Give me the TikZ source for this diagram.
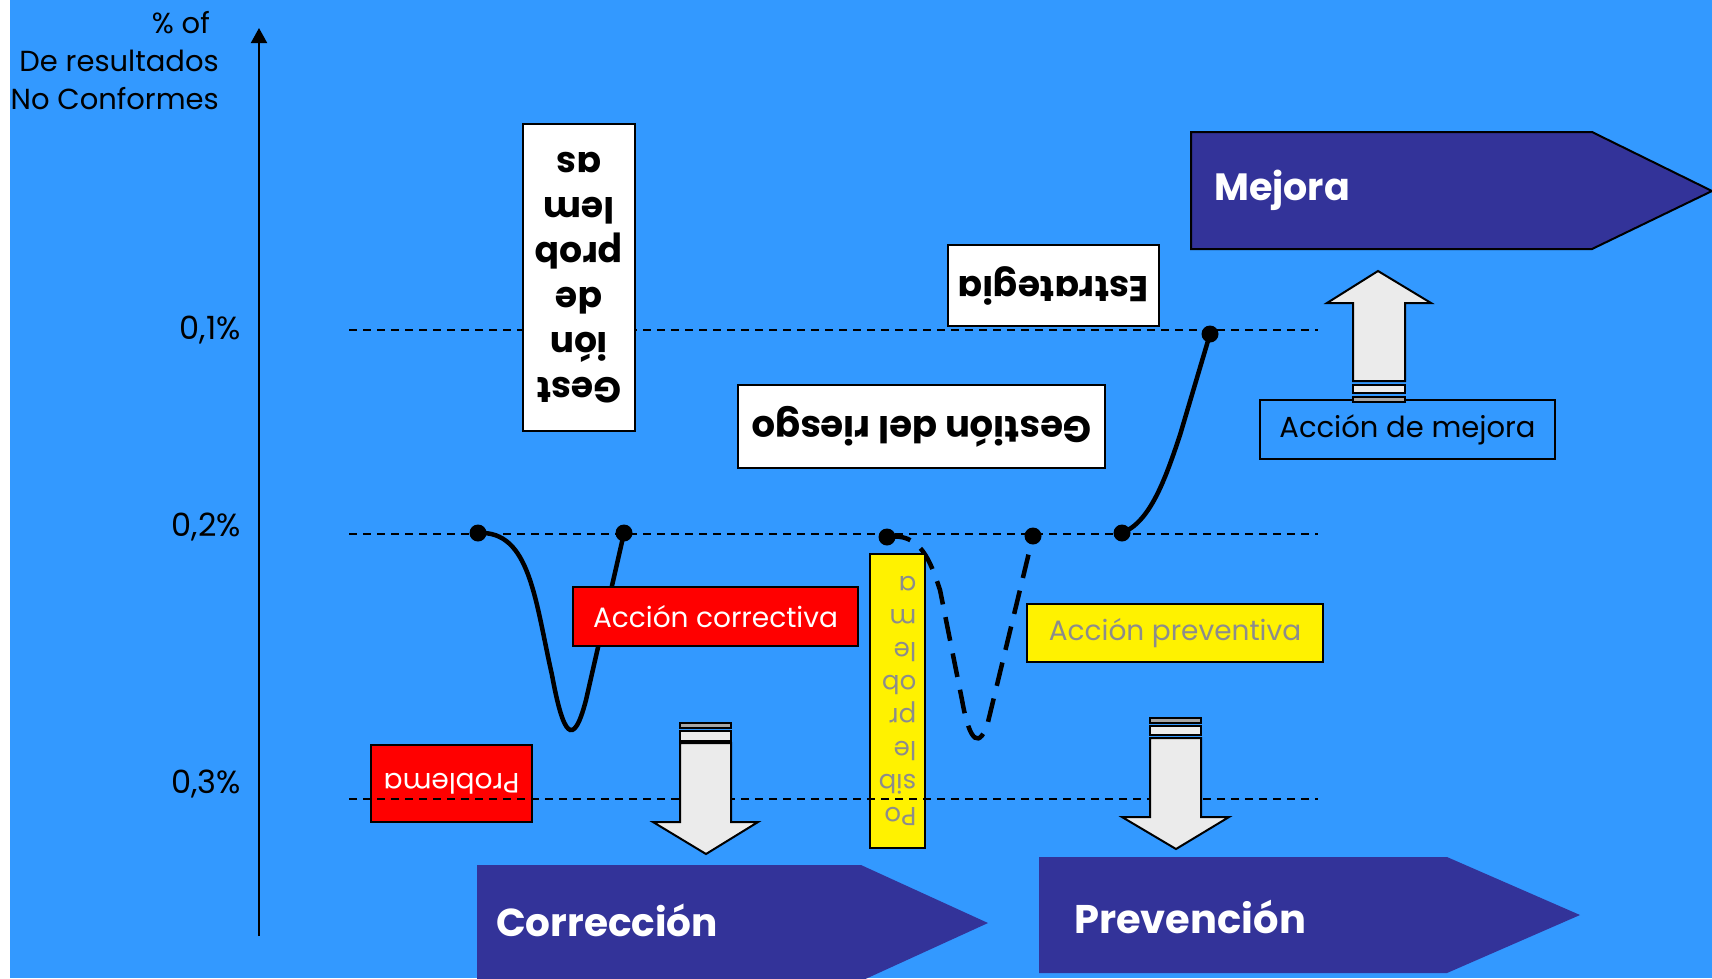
\documentclass[tikz,border=0pt]{standalone}
\usepackage{fontspec}
\setmainfont{Poppins}
\usetikzlibrary{arrows.meta}
\definecolor{bgblue}{HTML}{3399FF}
\definecolor{navy}{HTML}{333399}
\definecolor{arrowfill}{HTML}{EBEBEB}
\definecolor{stripegray}{HTML}{A6A6A6}
\definecolor{txtgray}{HTML}{8C8C8C}
\tikzset{
  lbl/.style={font=\fontsize{29}{38}\selectfont, inner sep=0pt},
  box/.style={draw=black, line width=1.8pt, inner sep=0pt, align=center},
  wbox/.style={box, fill=white, font=\fontsize{36}{45}\selectfont\bfseries},
  rbox/.style={box, fill=red, text=white, font=\fontsize{28}{30}\selectfont},
  ybox/.style={box, fill=yellow, text=txtgray, font=\fontsize{28}{30}\selectfont},
  obox/.style={box, font=\fontsize{29}{30}\selectfont},
  banner/.style={fill=navy},
  bannertxt/.style={text=white, font=\fontsize{40}{40}\selectfont\bfseries, anchor=west, inner sep=0pt},
  gridline/.style={dash pattern=on 8pt off 6pt, line width=1.6pt},
  curve/.style={line width=4.5pt},
  dot/.style={circle, fill=black, minimum size=17pt, inner sep=0pt},
  blockarrow/.style={fill=arrowfill, draw=black, line width=2pt, line join=miter},
}
\begin{document}
\begin{tikzpicture}[x=1pt,y=-1pt]
\useasboundingbox (0,0) rectangle (1712,978);
\fill[bgblue] (0,0) rectangle (1712,978);

% vertical axis
\coordinate (ax0) at (259,936);
\coordinate (ax1) at (259,28);
\draw[line width=2pt, -{Triangle[length=15pt,width=16pt]}] (ax0) -- (ax1);

% axis title and levels
\node[lbl, align=right, anchor=east] (title) at (219,61) {\% of\kern9pt\\De resultados\\No Conformes};
\node[lbl, anchor=east, font=\fontsize{32}{38}\selectfont] (p1) at (241,330) {0,1\%};
\node[lbl, anchor=east, font=\fontsize{32}{38}\selectfont] (p2) at (241,527) {0,2\%};
\node[lbl, anchor=east, font=\fontsize{32}{38}\selectfont] (p3) at (241,784) {0,3\%};

% reference levels
\coordinate (g1a) at (349,330); \coordinate (g1b) at (1318,330);
\coordinate (g2a) at (349,534); \coordinate (g2b) at (1318,534);
\coordinate (g3a) at (349,799); \coordinate (g3b) at (1318,799);
\draw[gridline] (g1a) -- (g1b);
\draw[gridline] (g2a) -- (g2b);

% process curves
\node[dot] (dA) at (478,533) {};
\node[dot] (dB) at (624,533) {};
\node[dot] (dC) at (887,537) {};
\node[dot] (dD) at (1033,536) {};
\node[dot] (dE) at (1122,533) {};
\node[dot] (dF) at (1210,334) {};
\draw[curve] (dA.center) .. controls (530,530) and (535,600) .. (552,675)
  .. controls (563,735) and (573,750) .. (586,700) -- (dB.center);
\draw[curve, dash pattern=on 24pt off 13pt] (dC.center) .. controls (920,532) and (930,560) .. (940,590)
  -- (962,700) .. controls (970,745) and (980,748) .. (988,722) -- (dD.center);
\draw[curve] (dE.center) .. controls (1150,522) and (1165,480) .. (1180,435) -- (dF.center);

% labelled boxes
\node[wbox, rotate=180, minimum width=112pt, minimum height=307pt,
      font=\fontsize{36}{45}\selectfont\bfseries] (gest) at (579,277.5) {Gest\\ión\\de\\prob\\lem\\as};
\node[wbox, rotate=180, minimum width=211pt, minimum height=81pt] (estr) at (1053.5,285.5) {Estrategia};
\node[wbox, rotate=180, minimum width=367pt, minimum height=83pt, font=\fontsize{37}{45}\selectfont\bfseries] (riesgo) at (921.5,426.5) {Gestión del riesgo};
\node[rbox, minimum width=285pt, minimum height=59pt] (acorr) at (715.5,616.5) {Acción correctiva};
\node[rbox, rotate=180, minimum width=161pt, minimum height=77pt] (probl) at (451.5,783.5) {Problema};
\node[ybox, rotate=180, minimum width=55pt, minimum height=294pt, align=left,
      font=\fontsize{26}{33}\selectfont] (posib) at (897.5,701) {Po\\sib\\le\\pr\\ob\\le\\m\\a};
\node[ybox, minimum width=296pt, minimum height=58pt] (aprev) at (1175,633) {Acción preventiva};
\node[obox, minimum width=295pt, minimum height=59pt] (amej) at (1407.5,429.5) {Acción de mejora};

\draw[gridline] (g3a) -- (g3b);

% block arrows
\path[blockarrow] (680,743) -- (731,743) -- (731,822) -- (758,822) -- (706,854) -- (653,822) -- (680,822) -- cycle;
\path[blockarrow] (680,731) rectangle (731,741);
\path[blockarrow, fill=stripegray] (680,723) rectangle (731,727.5);

\path[blockarrow] (1150,738) -- (1201,738) -- (1201,817) -- (1229,817) -- (1176,849) -- (1122,817) -- (1150,817) -- cycle;
\path[blockarrow] (1150,726) rectangle (1201,735);
\path[blockarrow, fill=stripegray] (1150,718) rectangle (1201,722.5);

\path[blockarrow] (1353,381) -- (1405,381) -- (1405,303) -- (1431,303) -- (1378,271) -- (1327,303) -- (1353,303) -- cycle;
\path[blockarrow] (1353,385) rectangle (1405,393);
\path[blockarrow, fill=stripegray] (1353,397) rectangle (1405,402);

% stage banners
\path[banner, draw=black, line width=2pt] (1191,132) -- (1592,132) -- (1712,191) -- (1592,249) -- (1191,249) -- cycle;
\node[bannertxt, font=\fontsize{38}{40}\selectfont\bfseries] (tmej) at (1214,190) {Mejora};
\path[banner] (477,865) -- (861,865) -- (988,923) -- (861,981) -- (477,981) -- cycle;
\node[bannertxt, font=\fontsize{39}{40}\selectfont\bfseries] (tcorr) at (496,920) {Corrección};
\path[banner] (1039,857) -- (1447,857) -- (1580,915) -- (1447,973) -- (1039,973) -- cycle;
\node[bannertxt] (tprev) at (1074,917) {Prevención};

% page margin strip
\fill[white] (0,0) rectangle (10,978);
\end{tikzpicture}
\end{document}
